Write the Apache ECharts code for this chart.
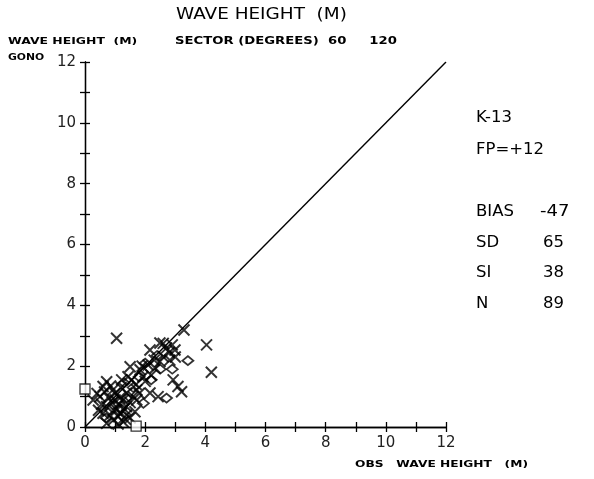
<!DOCTYPE html>
<html>
<head>
<meta charset="utf-8">
<script src="https://cdn.jsdelivr.net/npm/echarts@6/dist/echarts.min.js"></script>
<style>
  html, body { margin: 0; padding: 0; background: #fff; }
  #chart { width: 594px; height: 479px; }
</style>
</head>
<body>
<div id="chart"></div>
<script>
// 坐标轴刻度
const axisTicks = [0, 2, 4, 6, 8, 10, 12];

// X 标记点 (OBS, GONO)
const crossObs  = [1.05, 3.29, 4.04, 4.2, 2.16, 2.49, 2.71, 2.99, 2.82, 2.49, 2.1, 1.83, 2.93, 3.09, 3.21, 2.16, 2.43,
  1.55, 1.22, 0.6, 0.72, 0.5, 0.27, 0.93, 1.38, 1.72, 1.93, 1.0, 1.27, 0.72, 1.05, 1.38, 0.83, 1.1, 1.38, 1.66,
  0.94, 1.27, 0.72, 1.72, 1.43, 1.5, 2.33, 2.6, 2.8, 3.0, 0.4, 0.55, 0.65, 0.8, 0.85, 1.0, 1.15, 1.2, 1.3, 1.5,
  1.6, 1.1, 0.95, 1.2, 1.5, 0.9, 1.7, 1.8, 2.0, 2.2, 2.3, 1.1, 1.35, 0.6, 0.45, 2.6, 2.9, 1.9];
const crossGono = [2.92, 3.19, 2.70, 1.8, 2.53, 2.76, 2.6, 2.53, 2.2, 2.15, 2.04, 1.88, 1.55, 1.33, 1.16, 1.12, 1.0,
  1.55, 1.55, 1.33, 1.49, 1.0, 0.89, 1.22, 1.12, 1.22, 1.65, 0.89, 0.89, 0.67, 0.56, 0.67, 0.39, 0.34, 0.39, 0.5,
  0.23, 0.17, 0.12, 0.89, 1.65, 1.98, 1.94, 2.31, 2.45, 2.3, 1.1, 0.75, 1.15, 0.95, 1.35, 1.1, 0.95, 1.3, 0.6, 0.8,
  1.0, 0.75, 0.55, 0.45, 0.3, 0.8, 1.4, 1.1, 1.5, 1.7, 2.2, 0.1, 0.25, 0.45, 0.55, 2.75, 2.7, 2.0];

// 菱形标记点
const diamondObs  = [3.42, 1.94, 2.0, 2.71, 2.5, 2.2, 1.6, 1.3, 2.4, 1.8, 2.9, 1.4, 0.7, 1.2];
const diamondGono = [2.18, 0.78, 2.1, 0.95, 1.9, 1.55, 1.3, 1.45, 2.35, 1.65, 1.9, 0.95, 0.3, 0.6];

// 方框标记点
const squareObs  = [0, 1.7];
const squareGono = [1.25, 0.03];

function pairs(xs, ys) {
  return xs.map((x, i) => [x, ys[i]]);
}

const chart = echarts.init(document.getElementById('chart'));
const txtFont = 'DejaVu Sans';
const black = '#000';

function axisBase(extra) {
  return Object.assign({
    type: 'value',
    min: 0,
    max: 12,
    interval: 1,
    splitLine: { show: false },
    axisLine: { show: true, onZero: false, lineStyle: { color: black, width: 1.3 } },
    axisTick: { show: true, length: 5, lineStyle: { color: black, width: 1.3 } }
  }, extra);
}

const labelStyle = {
  color: '#222',
  fontFamily: txtFont,
  fontSize: 15,
  formatter: v => (axisTicks.indexOf(v) >= 0 ? String(v) : '')
};

// 文字，sx 为横向拉伸（模拟绘图仪字体）
function text(str, x, y, size, bold, sx) {
  return {
    type: 'text',
    x: x,
    y: y,
    scaleX: sx || 1,
    style: {
      text: str,
      fill: black,
      textVerticalAlign: 'middle',
      font: (bold ? 'bold ' : '') + size + 'px "' + txtFont + '"'
    }
  };
}

chart.setOption({
  backgroundColor: '#fff',
  animation: false,
  grid: { left: 85, right: 148, top: 62, bottom: 52 },
  xAxis: [
    axisBase({ position: 'bottom', axisLabel: Object.assign({ margin: 9 }, labelStyle) }),
    axisBase({ position: 'bottom', axisLabel: { show: false }, axisTick: { show: true, inside: true, length: 5, lineStyle: { color: black, width: 1.3 } } })
  ],
  yAxis: [
    axisBase({ position: 'left', axisLabel: Object.assign({ margin: 9 }, labelStyle) }),
    axisBase({ position: 'left', axisLabel: { show: false }, axisTick: { show: true, inside: true, length: 5, lineStyle: { color: black, width: 1.3 } } })
  ],
  graphic: [
    text('WAVE HEIGHT  (M)', 176, 15, 16, false, 1.15),
    text('WAVE HEIGHT  (M)', 8, 42, 9, true, 1.38),
    text('SECTOR (DEGREES)  60     120', 175, 41, 10, true, 1.32),
    text('GONO', 8, 58, 9, true, 1.2),
    text('K-13', 476, 118, 15, false, 1.1),
    text('FP=+12', 476, 150, 15, false, 1.1),
    text('BIAS', 476, 212, 15, false, 1.1),
    text('-47', 540, 212, 15, false, 1.2),
    text('SD', 476, 243, 15, false, 1.1),
    text('65', 543, 243, 15, false, 1.1),
    text('SI', 476, 273, 15, false, 1.1),
    text('38', 543, 273, 15, false, 1.1),
    text('N', 476, 304, 15, false, 1.1),
    text('89', 543, 304, 15, false, 1.1),
    text('OBS   WAVE HEIGHT   (M)', 355, 465, 9, true, 1.36)
  ],
  series: [
    {
      type: 'line',
      data: [[0, 0], [12, 12]],
      symbol: 'none',
      lineStyle: { color: black, width: 1.4 },
      z: 1
    },
    {
      type: 'scatter',
      data: pairs(crossObs, crossGono),
      symbol: 'path://M0,0L10,10M10,0L0,10',
      symbolSize: 11,
      itemStyle: { color: 'transparent', borderColor: black, borderWidth: 2 }
    },
    {
      type: 'scatter',
      data: pairs(diamondObs, diamondGono),
      symbol: 'diamond',
      symbolSize: [11, 9],
      itemStyle: { color: 'transparent', borderColor: black, borderWidth: 1.8 }
    },
    {
      type: 'scatter',
      data: pairs(squareObs, squareGono),
      symbol: 'rect',
      symbolSize: 10,
      itemStyle: { color: '#fff', borderColor: black, borderWidth: 1.3 }
    }
  ]
});
</script>
</body>
</html>
